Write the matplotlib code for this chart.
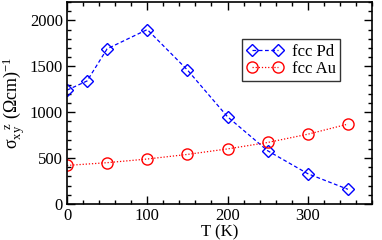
import matplotlib
matplotlib.use("Agg")
import matplotlib.pyplot as plt
from matplotlib.ticker import MultipleLocator

plt.rcParams['font.family'] = ['Liberation Serif', 'DejaVu Serif']
plt.rcParams['mathtext.fontset'] = 'custom'
plt.rcParams['mathtext.rm'] = 'Liberation Serif'
plt.rcParams['mathtext.it'] = 'Liberation Serif'

# 온도별 데이터
T_pd = [0, 25, 50, 100, 150, 200, 250, 300, 350]
sigma_pd = [1240, 1340, 1690, 1900, 1460, 950, 580, 330, 160]
T_au = [0, 50, 100, 150, 200, 250, 300, 350]
sigma_au = [420, 450, 490, 540, 600, 670, 760, 870]

fig = plt.figure(figsize=(3.82, 2.4), dpi=100)
ax = fig.add_axes([67/382, 36/240, (372-67)/382, (204-2)/240])

ax.plot(T_pd, sigma_pd, color='blue', ls=(0, (3, 2)), lw=0.9, marker='D',
        ms=6.5, mfc='none', mec='blue', mew=1.0, label='fcc Pd')
ax.plot(T_au, sigma_au, color='red', ls=(0, (1, 1.5)), lw=0.9, marker='o',
        ms=8, mfc='none', mec='red', mew=1.0, label='fcc Au')

ax.set_xlim(0, 380)
ax.set_ylim(0, 2200)
ax.xaxis.set_major_locator(MultipleLocator(100))
ax.xaxis.set_minor_locator(MultipleLocator(20))
ax.yaxis.set_major_locator(MultipleLocator(500))
ax.yaxis.set_minor_locator(MultipleLocator(100))
ax.tick_params(which='both', direction='in', top=True, right=True,
               labelsize=12, width=1.0)
ax.tick_params(which='major', length=6, pad=3)
ax.tick_params(which='minor', length=3)
for s in ax.spines.values():
    s.set_linewidth(1.2)

ax.set_xlabel('T (K)', fontsize=12, labelpad=0)
ax.set_ylabel('σ$_{\\mathrm{xy}}^{\\ \\ \\ \\mathrm{z}}$ (Ωcm)$^{-1}$',
              fontsize=13, labelpad=1)

leg = ax.legend(loc='upper left', bbox_to_anchor=(0.575, 0.815), fontsize=12,
                frameon=True, fancybox=False, edgecolor='black', numpoints=2,
                handlelength=2.2, borderpad=0.25, labelspacing=0.1,
                handletextpad=0.5, borderaxespad=0)
leg.get_frame().set_linewidth(1.0)

fig.savefig('out.png', dpi=100)
